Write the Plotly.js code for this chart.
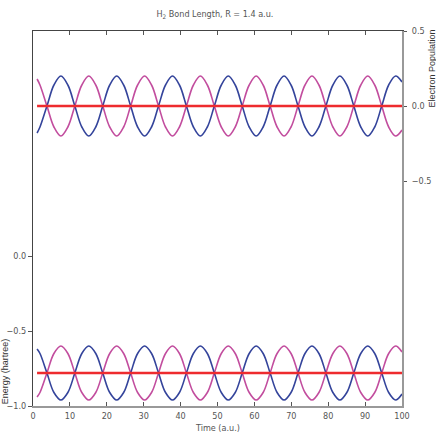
<!DOCTYPE html>
<html>
<head>
<meta charset="utf-8">
<script src="https://cdn.plot.ly/plotly-3.0.1.min.js"></script>
<style>
  html, body { margin: 0; padding: 0; background: #fff; }
  #myDiv { width: 436px; height: 436px; }
</style>
</head>
<body>
<div id="myDiv"></div>
<script>
// time samples (a.u.), roughly every eighth of an oscillation
var time = [1.1,
  1.89, 3.78, 5.67, 7.56, 9.45, 11.34, 13.23, 15.12,
  17.01, 18.9, 20.79, 22.68, 24.57, 26.46, 28.35, 30.24,
  32.13, 34.02, 35.91, 37.8, 39.69, 41.58, 43.47, 45.36,
  47.25, 49.14, 51.03, 52.92, 54.81, 56.7, 58.59, 60.48,
  62.37, 64.26, 66.15, 68.04, 69.93, 71.82, 73.71, 75.6,
  77.49, 79.38, 81.27, 83.16, 85.05, 86.94, 88.83, 90.72,
  92.61, 94.5, 96.39, 98.28,
  100];

// electron population (right axis)
var popMagenta = [0.18,
  0.14, 0, -0.14, -0.2, -0.14, 0, 0.14, 0.2,
  0.14, 0, -0.14, -0.2, -0.14, 0, 0.14, 0.2,
  0.14, 0, -0.14, -0.2, -0.14, 0, 0.14, 0.2,
  0.14, 0, -0.14, -0.2, -0.14, 0, 0.14, 0.2,
  0.14, 0, -0.14, -0.2, -0.14, 0, 0.14, 0.2,
  0.14, 0, -0.14, -0.2, -0.14, 0, 0.14, 0.2,
  0.14, 0, -0.14, -0.2,
  -0.16];
var popBlue = [-0.18,
  -0.14, 0, 0.14, 0.2, 0.14, 0, -0.14, -0.2,
  -0.14, 0, 0.14, 0.2, 0.14, 0, -0.14, -0.2,
  -0.14, 0, 0.14, 0.2, 0.14, 0, -0.14, -0.2,
  -0.14, 0, 0.14, 0.2, 0.14, 0, -0.14, -0.2,
  -0.14, 0, 0.14, 0.2, 0.14, 0, -0.14, -0.2,
  -0.14, 0, 0.14, 0.2, 0.14, 0, -0.14, -0.2,
  -0.14, 0, 0.14, 0.2,
  0.16];

// energy (left axis)
var energyBlue = [-0.62,
  -0.65, -0.78, -0.91, -0.96, -0.91, -0.78, -0.65, -0.6,
  -0.65, -0.78, -0.91, -0.96, -0.91, -0.78, -0.65, -0.6,
  -0.65, -0.78, -0.91, -0.96, -0.91, -0.78, -0.65, -0.6,
  -0.65, -0.78, -0.91, -0.96, -0.91, -0.78, -0.65, -0.6,
  -0.65, -0.78, -0.91, -0.96, -0.91, -0.78, -0.65, -0.6,
  -0.65, -0.78, -0.91, -0.96, -0.91, -0.78, -0.65, -0.6,
  -0.65, -0.78, -0.91, -0.96,
  -0.92];
var energyMagenta = [-0.94,
  -0.91, -0.78, -0.65, -0.6, -0.65, -0.78, -0.91, -0.96,
  -0.91, -0.78, -0.65, -0.6, -0.65, -0.78, -0.91, -0.96,
  -0.91, -0.78, -0.65, -0.6, -0.65, -0.78, -0.91, -0.96,
  -0.91, -0.78, -0.65, -0.6, -0.65, -0.78, -0.91, -0.96,
  -0.91, -0.78, -0.65, -0.6, -0.65, -0.78, -0.91, -0.96,
  -0.91, -0.78, -0.65, -0.6, -0.65, -0.78, -0.91, -0.96,
  -0.91, -0.78, -0.65, -0.6,
  -0.64];

// flat red lines
var redTime = [1.1, 100];
var energyRed = [-0.78, -0.78];
var popRed = [0, 0];

var xTicks = [0, 10, 20, 30, 40, 50, 60, 70, 80, 90, 100];
var energyTicks = [-1, -0.5, 0];
var popTicks = [-0.5, 0, 0.5];

var blue = '#34449b';
var magenta = '#c24d9e';
var red = '#ee2b2e';
var tickFont = {family: 'Liberation Sans Narrow, DejaVu Sans Condensed, Arial Narrow, sans-serif', size: 9, color: '#555'};
var labelFont = {family: 'Liberation Sans, Arial, sans-serif', size: 9, color: '#333'};

function wave(x, y, color, xa, ya, w) {
  return {
    x: x, y: y, xaxis: xa, yaxis: ya,
    mode: 'lines',
    line: {color: color, width: w, shape: 'spline', smoothing: 1},
    hoverinfo: 'skip'
  };
}

var data = [
  wave(time, energyMagenta, magenta, 'x', 'y', 1.6),
  wave(time, energyBlue, blue, 'x', 'y', 1.6),
  wave(redTime, energyRed, red, 'x', 'y', 2.5),
  wave(time, popMagenta, magenta, 'x2', 'y2', 1.6),
  wave(time, popBlue, blue, 'x2', 'y2', 1.6),
  wave(redTime, popRed, red, 'x2', 'y2', 2.5)
];

var layout = {
  width: 436,
  height: 436,
  margin: {l: 33, r: 34, t: 31, b: 30},
  showlegend: false,
  paper_bgcolor: '#fff',
  plot_bgcolor: '#fff',
  title: {
    text: 'H<sub>2</sub> Bond Length, R = 1.4 a.u.',
    font: tickFont,
    x: 0.493, xanchor: 'center',
    y: 0.968, yanchor: 'middle'
  },
  xaxis: {
    range: [0, 100],
    tickvals: xTicks,
    ticks: 'inside', ticklen: 4, tickcolor: '#555',
    showline: true, linecolor: '#999', linewidth: 2,
    showgrid: false, zeroline: false,
    tickfont: tickFont
  },
  xaxis2: {
    range: [0, 100],
    overlaying: 'x', side: 'top',
    tickvals: xTicks,
    ticks: 'inside', ticklen: 4, tickcolor: '#555',
    showticklabels: false,
    showline: true, linecolor: '#444', linewidth: 1,
    showgrid: false, zeroline: false
  },
  yaxis: {
    range: [-1, 1.5],
    tickvals: energyTicks,
    ticktext: ['\u22121.0', '\u22120.5', '0.0'],
    ticks: 'outside', ticklen: 4, tickcolor: '#555',
    showline: true, linecolor: '#444', linewidth: 1,
    showgrid: false, zeroline: false,
    tickfont: tickFont
  },
  yaxis2: {
    range: [-2, 0.5],
    overlaying: 'y', side: 'right',
    tickvals: popTicks,
    ticktext: ['\u22120.5', '0.0', '0.5'],
    ticks: 'outside', ticklen: 3, tickcolor: '#555',
    ticklabelstandoff: 3,
    showline: true, linecolor: '#999', linewidth: 2,
    showgrid: false, zeroline: false,
    tickfont: tickFont
  },
  annotations: [
    {text: 'Time (a.u.)', xref: 'paper', yref: 'paper', x: 0.5, y: 0,
     xanchor: 'center', yanchor: 'top', yshift: -15, showarrow: false, font: tickFont},
    {text: 'Energy (hartree)', xref: 'paper', yref: 'paper', x: -0.075, y: 0,
     xanchor: 'center', yanchor: 'bottom', textangle: -90, showarrow: false, font: labelFont},
    {text: 'Electron Population', xref: 'paper', yref: 'paper', x: 1.082, y: 1.01,
     xanchor: 'center', yanchor: 'top', textangle: -90, showarrow: false, font: labelFont}
  ]
};

Plotly.newPlot('myDiv', data, layout, {displayModeBar: false, staticPlot: true});
</script>
</body>
</html>
